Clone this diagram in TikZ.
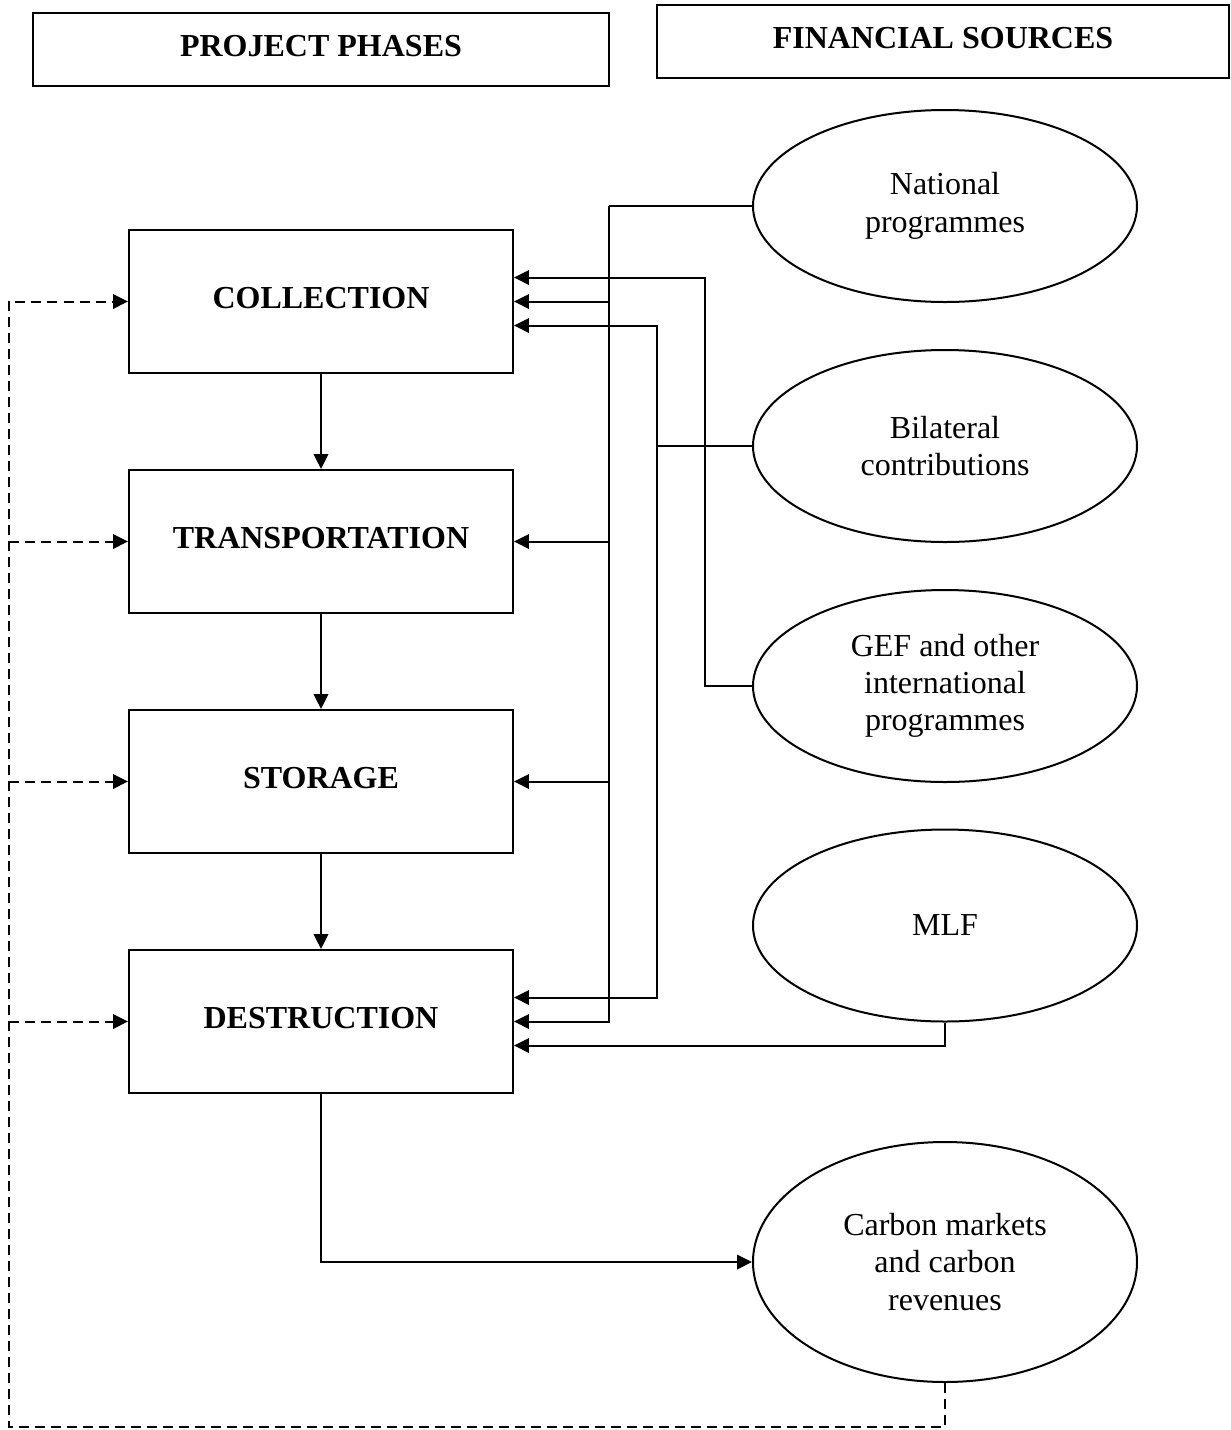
\documentclass[tikz,border=0pt]{standalone}
\usepackage{fontspec}
\setmainfont{Liberation Serif}
\usetikzlibrary{arrows.meta,shapes.geometric}

\begin{document}
\begin{tikzpicture}[x=0.375pt, y=-0.375pt, line width=0.75pt,
    >={Triangle[length=5.6pt,width=5.4pt]},
    header/.style={draw, rectangle, minimum width=216pt, minimum height=27.4pt, font=\fontsize{12}{14}\selectfont\bfseries, text depth=2.6pt},
    phase/.style={draw, rectangle, minimum width=144pt, minimum height=53.6pt, font=\fontsize{12}{14}\selectfont\bfseries, text depth=3pt},
    fund/.style={draw, ellipse, minimum width=144pt, minimum height=72pt, inner sep=0pt, align=center, font=\fontsize{12}{14}\selectfont},
    backline/.style={dash pattern=on 3.75pt off 2.25pt}]
    \useasboundingbox (0,0) rectangle (1231,1430);

    \node[header] at (321, 49.5) (phases) {PROJECT PHASES};
    \node[header, minimum width=214.5pt] at (943, 41.5) (sources) {FINANCIAL SOURCES};

    \node[phase] at (321, 301.5) (collection) {COLLECTION};
    \node[phase] at (321, 541.5) (transport) {TRANSPORTATION};
    \node[phase] at (321, 781.5) (storage) {STORAGE};
    \node[phase] at (321, 1021.5) (destruction) {DESTRUCTION};

    \node[fund] at (945, 206) (national) {National\\programmes};
    \node[fund] at (945, 446) (bilateral) {Bilateral\\contributions};
    \node[fund] at (945, 686) (gef) {GEF and other\\international\\programmes};
    \node[fund] at (945, 925.5) (mlf) {MLF};
    \node[fund, minimum height=90pt] at (945, 1262) (carbon) {Carbon markets\\and carbon\\revenues};

    \coordinate (natbus) at (609, 206);
    \coordinate (bilbus) at (657, 446);
    \coordinate (gefbus) at (705, 686);
    \coordinate (loopend) at (9, 1427);

    \draw[->] (collection) -- (transport);
    \draw[->] (transport) -- (storage);
    \draw[->] (storage) -- (destruction);

    \draw (national.west) -- (natbus);
    \draw[->] (natbus) |- (collection.east);
    \draw[->] (natbus) |- (transport.east);
    \draw[->] (natbus) |- (storage.east);
    \draw[->] (natbus) |- (destruction.east);
    \draw (bilateral.west) -- (bilbus);
    \draw[->] (bilbus) |- ([yshift=-9pt]collection.east);
    \draw[->] (bilbus) |- ([yshift=9pt]destruction.east);
    \draw[->] (gef.west) -- (gefbus) |- ([yshift=9pt]collection.east);
    \draw[->] (mlf.south) |- ([yshift=-9pt]destruction.east);
    \draw[->] (destruction.south) |- (carbon.west);

    \draw[backline, ->] (carbon.south) |- (loopend) |- (collection.west);
    \draw[backline, ->] (loopend |- transport.west) -- (transport.west);
    \draw[backline, ->] (loopend |- storage.west) -- (storage.west);
    \draw[backline, ->] (loopend |- destruction.west) -- (destruction.west);
\end{tikzpicture}
\end{document}
